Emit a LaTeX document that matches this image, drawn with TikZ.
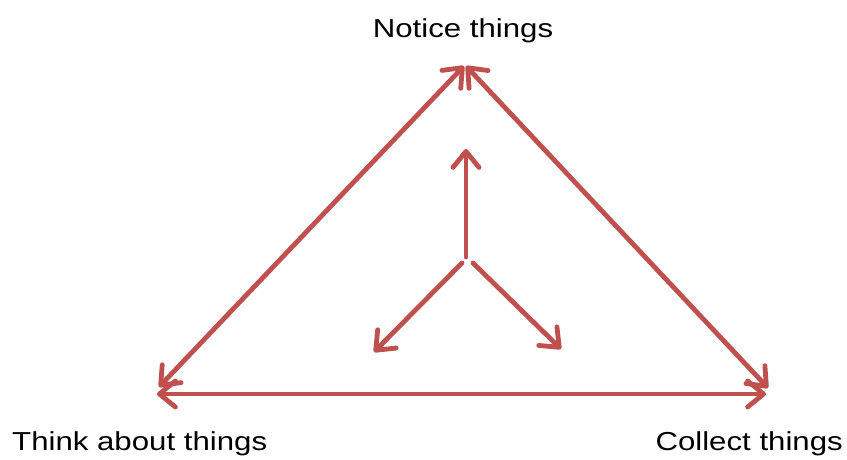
\documentclass[tikz,border=0pt]{standalone}
\usepackage{fontspec}
\setmainfont{Liberation Sans}
\definecolor{CycleRed}{HTML}{C0504D}
\usetikzlibrary{arrows.meta}

\begin{document}
\begin{tikzpicture}[
  x=1pt, y=-1pt,
  cyclearrow/.style={draw=CycleRed, line width=4.8pt, line cap=round,
                     {Straight Barb[length=16pt, width=26pt, round]}-{Straight Barb[length=16pt, width=26pt, round]}},
  outarrow/.style={draw=CycleRed, line width=4.8pt, line cap=round,
                   -{Straight Barb[length=16pt, width=26pt, round]}},
  steplbl/.style={font=\fontsize{26}{30}\selectfont, inner sep=0pt},
]
\useasboundingbox (0,0) rectangle (847,460);
% corners of the triangle
\coordinate (notice) at (465,65);
\coordinate (think) at (157,394);
\coordinate (thinkdiag) at (159,387);
\coordinate (collect) at (766,394);
\coordinate (collectdiag) at (768,388);
\coordinate (noticeL) at (464,66);
\coordinate (noticeR) at (466,66);
% centre arrows
\coordinate (hubtop) at (466,257);
\coordinate (hubleft) at (462,263);
\coordinate (hubright) at (473,263);
\coordinate (upend) at (466,149);
\coordinate (leftend) at (374,352);
\coordinate (rightend) at (561,349);

\draw[cyclearrow] (thinkdiag) -- (noticeL);
\draw[cyclearrow] (noticeR) -- (collectdiag);
\draw[cyclearrow] (think) -- (collect);
\draw[outarrow] (hubtop) -- (upend);
\draw[outarrow] (hubleft) -- (leftend);
\draw[outarrow] (hubright) -- (rightend);

\node[steplbl, anchor=base] (noticelbl) at (463,38) {\scalebox{1.2}[1]{Notice things}};
\node[steplbl, anchor=base west] (thinklbl) at (12,450) {\scalebox{1.2}[1]{Think about things}};
\node[steplbl, anchor=base east] (collectlbl) at (843,450) {\scalebox{1.2}[1]{Collect things}};
\end{tikzpicture}
\end{document}
